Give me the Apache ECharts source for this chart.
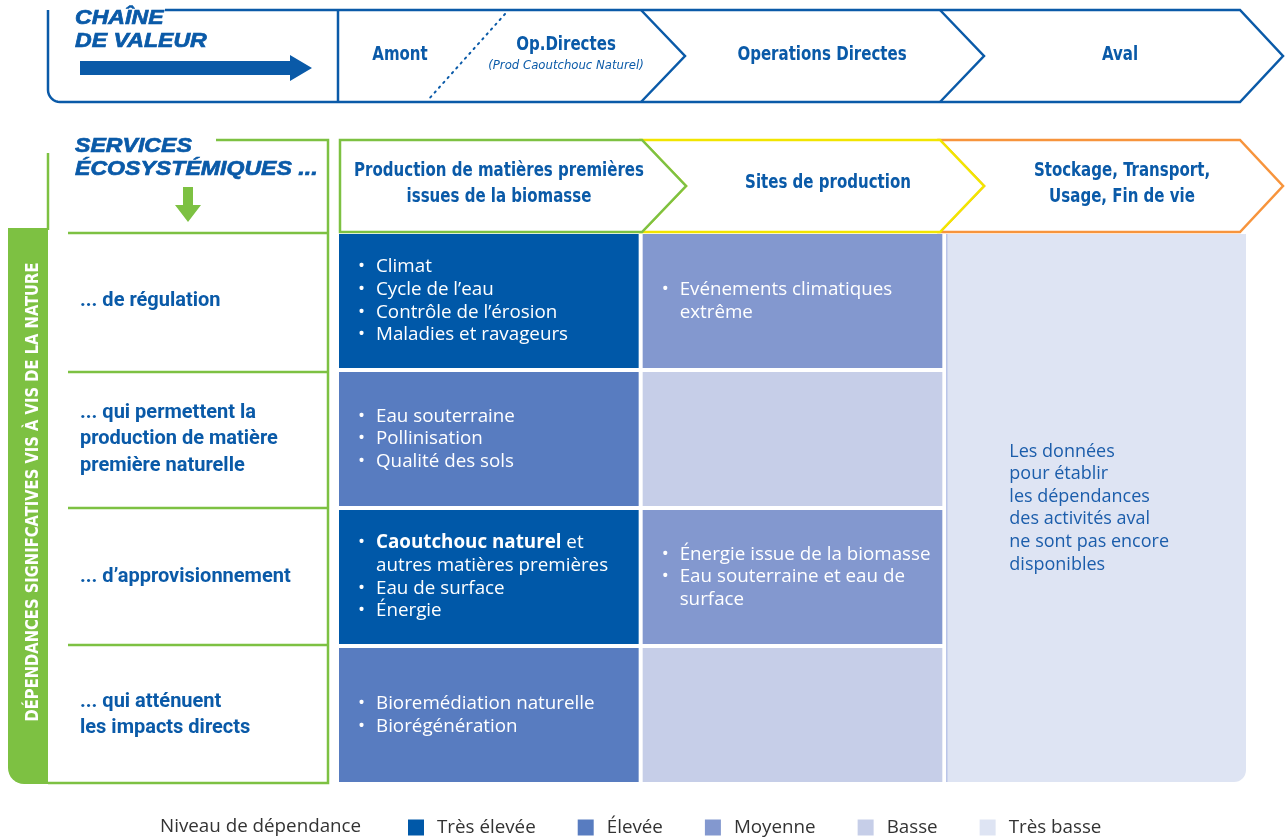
<!DOCTYPE html>
<html><head><meta charset="utf-8">
<script src="https://cdn.jsdelivr.net/npm/echarts@6/dist/echarts.min.js"></script>
<style>html,body{margin:0;padding:0;background:#fff}#c{width:1285px;height:840px}</style>
</head><body><div id="c"></div>
<script>
// ---- data ----
const chainSteps = ['Amont', 'Op.Directes', 'Operations Directes', 'Aval'];
const chainNote = '(Prod Caoutchouc Naturel)';
const stages = ['Production de matières premières\nissues de la biomasse', 'Sites de production', 'Stockage, Transport,\nUsage, Fin de vie'];
const services = ['... de régulation', '... qui permettent la\nproduction de matière\npremière naturelle', '... d’approvisionnement', '... qui atténuent\nles impacts directs'];
const levels = ['Très élevée', 'Élevée', 'Moyenne', 'Basse', 'Très basse'];
const levelColors = ['#0058a8', '#587cc0', '#8398cf', '#c6cee8', '#dee4f3'];
// [column, row, columnSpan, rowSpan, levelIndex]
const cellSpans = [
  [0,0,1,1,0],[1,0,1,1,2],
  [0,1,1,1,1],[1,1,1,1,3],
  [0,2,1,1,0],[1,2,1,1,2],
  [0,3,1,1,1],[1,3,1,1,3],
  [2,0,1,4,4]
];
const cellTexts = [
  ['Climat', 'Cycle de l’eau', 'Contrôle de l’érosion', 'Maladies et ravageurs'],
  ['Evénements climatiques\nextrême'],
  ['Eau souterraine', 'Pollinisation', 'Qualité des sols'],
  [],
  ['**Caoutchouc naturel** et\nautres matières premières', 'Eau de surface', 'Énergie'],
  ['Énergie issue de la biomasse', 'Eau souterraine et eau de\nsurface'],
  ['Bioremédiation naturelle', 'Biorégénération'],
  [],
  'Les données\npour établir\nles dépendances\ndes activités aval\nne sont pas encore\ndisponibles'
];
const legendTitle = 'Niveau de dépendance';
const sideTitle = 'DÉPENDANCES SIGNIFCATIVES VIS À VIS DE LA NATURE';

// ---- style ----
const BLUE = '#0a5aa8', GREEN = '#7dc142', YELLOW = '#f2e500', ORANGE = '#f7943c';
const COND = '"DejaVu Sans Condensed", "DejaVu Sans", sans-serif';
const SANS = '"Open Sans", "Noto Sans", sans-serif';
const HEAVY = '"Liberation Sans", Arial, sans-serif';
const NARROW = 0.835;

function toRich(items) {
  const out = [];
  items.forEach(item => {
    item.split('\n').forEach((line, i) => {
      let s = i === 0 ? '{b|•}' : '{s| }';
      line.split(/(\*\*[^*]+\*\*)/).forEach(part => {
        if (!part) return;
        if (part.startsWith('**')) s += '{tb|' + part.slice(2, -2) + '}';
        else s += '{t|' + part + '}';
      });
      out.push(s);
    });
  });
  return out.join('\n');
}

function makeRender(idxList) {
  return function (params, api) {
    const k = idxList[params.dataIndex];
    const text = cellTexts[k];
    const c = api.value(0), r = api.value(1), cs = api.value(2), rs = api.value(3);
    const ctr = api.coord([c, r]);
    const band = api.size([1, 1]);
    const x0 = ctr[0] - band[0] / 2 + 2, y0 = ctr[1] - band[1] / 2 + 2;
    const w = band[0] * cs - 4, h = band[1] * rs - 4;
    const lastCol = c + cs === 3, lastRow = r + rs === 4;
    const children = [{
      type: 'rect',
      shape: { x: x0, y: y0, width: w, height: h, r: (lastCol && lastRow) ? [0, 0, 12, 0] : 0 },
      style: { fill: api.visual('color') }
    }];
    if (typeof text === 'string') {
      children.push({ type: 'line', shape: { x1: x0 + 0.5, y1: y0, x2: x0 + 0.5, y2: y0 + h }, style: { stroke: '#a5b3e2', lineWidth: 1 } });
      children.push({
        type: 'text',
        style: { x: x0 + 63, y: y0 + h / 2, text: text, fill: '#1b5dab', font: '18px ' + SANS, lineHeight: 22.6, verticalAlign: 'middle', align: 'left' }
      });
    } else if (text.length) {
      const base = { fill: '#fff', fontSize: 18.8, fontFamily: SANS, lineHeight: 22.7 };
      children.push({
        type: 'text',
        style: {
          x: x0 + 19, y: y0 + h / 2, text: toRich(text), verticalAlign: 'middle', align: 'left',
          fill: '#fff', font: '18.8px ' + SANS, lineHeight: 22.7,
          rich: {
            b: Object.assign({}, base, { width: 18 }),
            s: Object.assign({}, base, { width: 18 }),
            t: base,
            tb: Object.assign({}, base, { fontWeight: 'bold' })
          }
        }
      });
    }
    return { type: 'group', children: children };
  };
}

const series = levels.map((lv, li) => {
  const idx = [];
  cellSpans.forEach((cSpan, k) => { if (cSpan[4] === li) idx.push(k); });
  return {
    type: 'custom', name: lv,
    itemStyle: { color: levelColors[li] },
    encode: { x: 0, y: 1 },
    data: idx.map(k => cellSpans[k].slice(0, 4)),
    renderItem: makeRender(idx),
    silent: true
  };
});

// ---- decorations ----
function corner(cx, cy, r, a0, a1) {
  const pts = [];
  for (let i = 0; i <= 8; i++) {
    const a = a0 + (a1 - a0) * i / 8;
    pts.push([cx + r * Math.cos(a), cy + r * Math.sin(a)]);
  }
  return pts;
}
const hdr = (t, x, y) => ({
  type: 'text', x: x, y: y, scaleX: NARROW,
  style: { text: t, fill: BLUE, font: 'bold 20px ' + COND, align: 'center', verticalAlign: 'middle', lineHeight: 26 }
});
const heavy = (t, x, y) => ({
  type: 'text', x: x, y: y, scaleX: 1.1,
  style: { text: t, fill: BLUE, stroke: BLUE, lineWidth: 0.7, font: 'italic bold 21px ' + HEAVY, verticalAlign: 'middle' }
});

const framePts = [[165,10],[1240,10],[1283,56],[1240,102]].concat(corner(60, 90, 12, Math.PI / 2, Math.PI)).concat([[48,10]]);
const barPts = [[8,228],[48,228],[48,784]].concat(corner(24, 768, 16, Math.PI / 2, Math.PI));

const graphics = [
  // value chain frame
  { type: 'polyline', shape: { points: framePts }, style: { fill: null, stroke: BLUE, lineWidth: 2.5 } },
  { type: 'line', shape: { x1: 338, y1: 10, x2: 338, y2: 102 }, style: { stroke: BLUE, lineWidth: 2.5 } },
  { type: 'polyline', shape: { points: [[641,10],[685,56],[641,102]] }, style: { stroke: BLUE, lineWidth: 2.5, fill: null } },
  { type: 'polyline', shape: { points: [[940,10],[984,56],[940,102]] }, style: { stroke: BLUE, lineWidth: 2.5, fill: null } },
  { type: 'line', shape: { x1: 505, y1: 14, x2: 428, y2: 100 }, style: { stroke: BLUE, lineWidth: 2, lineDash: [1.5, 5], lineCap: 'round' } },
  { type: 'polygon', shape: { points: [[80,61],[290,61],[290,55],[312,68],[290,81],[290,75],[80,75]] }, style: { fill: BLUE } },
  heavy('CHAÎNE', 75, 18),
  heavy('DE VALEUR', 75, 41),
  hdr(chainSteps[0], 400, 55),
  hdr(chainSteps[1], 566, 45),
  { type: 'text', x: 566, y: 66, style: { text: chainNote, fill: BLUE, font: 'italic 13px ' + COND, align: 'center', verticalAlign: 'middle' } },
  hdr(chainSteps[2], 822, 55),
  hdr(chainSteps[3], 1120, 55),
  // stage chevrons
  { type: 'polygon', shape: { points: [[940,140],[1240,140],[1283,186],[1240,232],[940,232],[984,186]] }, style: { fill: '#fff', stroke: ORANGE, lineWidth: 2.5 } },
  { type: 'polygon', shape: { points: [[642,140],[940,140],[984,186],[940,232],[642,232],[686,186]] }, style: { fill: '#fff', stroke: YELLOW, lineWidth: 2.5 } },
  { type: 'polygon', shape: { points: [[340,140],[642,140],[686,186],[642,232],[340,232]] }, style: { fill: '#fff', stroke: GREEN, lineWidth: 2.5 } },
  hdr(stages[0], 499, 184),
  hdr(stages[1], 828, 183),
  hdr(stages[2], 1122, 184),
  // services panel
  { type: 'polyline', shape: { points: [[216,140],[328,140],[328,783],[48,783]] }, style: { fill: null, stroke: GREEN, lineWidth: 2.5 } },
  { type: 'line', shape: { x1: 48, y1: 153, x2: 48, y2: 230 }, style: { stroke: GREEN, lineWidth: 2.5 } },
  { type: 'polygon', shape: { points: barPts }, style: { fill: GREEN } },
  { type: 'line', shape: { x1: 68, y1: 233, x2: 328, y2: 233 }, style: { stroke: GREEN, lineWidth: 2.5 } },
  { type: 'line', shape: { x1: 68, y1: 372, x2: 328, y2: 372 }, style: { stroke: GREEN, lineWidth: 2.5 } },
  { type: 'line', shape: { x1: 68, y1: 508, x2: 328, y2: 508 }, style: { stroke: GREEN, lineWidth: 2.5 } },
  { type: 'line', shape: { x1: 68, y1: 645, x2: 328, y2: 645 }, style: { stroke: GREEN, lineWidth: 2.5 } },
  { type: 'polygon', shape: { points: [[183,187],[193,187],[193,205],[201,205],[188,222],[175,205],[183,205]] }, style: { fill: GREEN } },
  heavy('SERVICES', 75, 146),
  heavy('ÉCOSYSTÉMIQUES ...', 75, 169),
  { type: 'text', x: 33, y: 492, rotation: Math.PI / 2, scaleX: 0.91, style: { text: sideTitle, fill: '#fff', font: 'bold 18px ' + COND, align: 'center', verticalAlign: 'middle' } },
  // legend title
  { type: 'text', x: 160, y: 827, style: { text: legendTitle, fill: '#333', font: '18.8px ' + SANS, verticalAlign: 'middle' } }
];

const chart = echarts.init(document.getElementById('c'), null, { renderer: 'canvas' });
chart.setOption({
  animation: false,
  backgroundColor: '#fff',
  grid: { left: 337, right: 37, top: 232, bottom: 56 },
  xAxis: { type: 'category', data: stages, show: false },
  yAxis: {
    type: 'category', data: services, inverse: true,
    axisLine: { show: false }, axisTick: { show: false }, splitLine: { show: false },
    axisLabel: { align: 'left', margin: 257, color: BLUE, fontFamily: 'Roboto, sans-serif', fontWeight: 'bold', fontSize: 20, lineHeight: 26.5 }
  },
  legend: {
    data: levels, left: 408, top: 818, padding: 0, itemWidth: 16, itemHeight: 16, itemGap: 42, icon: 'rect',
    selectedMode: false,
    textStyle: { fontSize: 18.8, color: '#333', fontFamily: SANS, padding: [0, 0, 0, 8] }
  },
  graphic: graphics,
  series: series
});
</script></body></html>
